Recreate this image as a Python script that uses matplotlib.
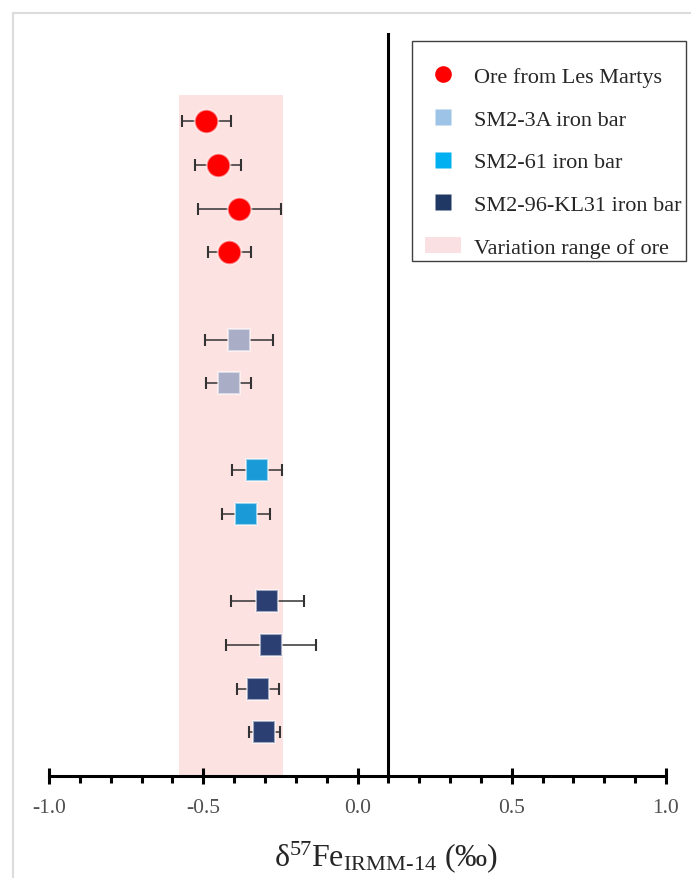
import matplotlib
matplotlib.use('Agg')
import matplotlib.pyplot as plt
from matplotlib.lines import Line2D
from matplotlib.patches import Patch, Rectangle
from matplotlib.ticker import MultipleLocator

plt.rcParams['font.family'] = ['Liberation Serif', 'DejaVu Serif']
plt.rcParams['mathtext.fontset'] = 'custom'
plt.rcParams['mathtext.rm'] = 'Liberation Serif'
plt.rcParams['mathtext.it'] = 'Liberation Serif:italic'
plt.rcParams['mathtext.bf'] = 'Liberation Serif:bold'

# ---- data ----
ore_pos = [15, 14, 13, 12]
ore_val = [-0.490, -0.453, -0.383, -0.416]
ore_err = [0.080, 0.075, 0.134, 0.070]

sm3a_pos = [10, 9]
sm3a_val = [-0.385, -0.417]
sm3a_err = [0.110, 0.073]

sm61_pos = [7, 6]
sm61_val = [-0.326, -0.361]
sm61_err = [0.081, 0.077]

sm96_pos = [4, 3, 2, 1]
sm96_val = [-0.292, -0.281, -0.322, -0.302]
sm96_err = [0.118, 0.146, 0.067, 0.051]

ore_range = [-0.578, -0.240]
range_top = 15.6

labels = ['Ore from Les Martys', 'SM2-3A iron bar', 'SM2-61 iron bar',
          'SM2-96-KL31 iron bar', 'Variation range of ore']
xticks = [-1.0, -0.5, 0.0, 0.5, 1.0]
xticklabels = ['-1.0', '-0.5', '0.0', '0.5', '1.0']

W, H = 691, 879
fig = plt.figure(figsize=(W / 100, H / 100), dpi=100)
ax = fig.add_axes([49 / W, 1 - 777 / H, (666 - 49) / W, (777 - 35) / H])
ax.set_xlim(-1.0, 1.0)
ax.set_ylim(0, 17)

band_color = '#fde2e2'
ax.add_patch(Rectangle((ore_range[0], 0), ore_range[1] - ore_range[0], range_top,
                       facecolor=band_color, edgecolor='none', zorder=0))

halo = (1, 1, 1, 0.55)
common = dict(linestyle='none', ecolor='#333333', elinewidth=1.1, capsize=4.5,
              capthick=1.1, mec=halo, mew=1.5)
ax.errorbar(ore_val, ore_pos, xerr=ore_err, marker='o', ms=17, mfc='#ff0000', zorder=3, **common)
ax.errorbar(sm3a_val, sm3a_pos, xerr=sm3a_err, marker='s', ms=16, mfc='#a9adc6', zorder=3, **common)
ax.errorbar(sm61_val, sm61_pos, xerr=sm61_err, marker='s', ms=16, mfc='#1a9ad6', zorder=3, **common)
ax.errorbar(sm96_val, sm96_pos, xerr=sm96_err, marker='s', ms=16, mfc='#2b3f72', zorder=3, **common)

# axes styling
for s in ['top', 'right']:
    ax.spines[s].set_visible(False)
ax.spines['left'].set_position(('data', 0.1))
ax.spines['left'].set_linewidth(2.2)
ax.spines['bottom'].set_linewidth(2.2)
ax.set_yticks([])
ax.set_xticks(xticks)
ax.set_xticklabels(xticklabels)
ax.xaxis.set_minor_locator(MultipleLocator(0.1))
ax.tick_params(axis='x', which='major', direction='inout', length=12, width=2.2,
               labelsize=15.5, labelcolor='#505050', pad=10)
ax.tick_params(axis='x', which='minor', direction='out', length=5, width=2.2)
ax.patch.set_alpha(0)

fig.text(386 / W, 1 - 866 / H, r'δ$^{57}$Fe$_{\mathrm{IRMM‐14}}$ (‰)',
         ha='center', va='baseline', fontsize=23, color='#262626')

# legend
handles = [
    Line2D([], [], linestyle='none', marker='o', ms=12, mfc='#ff0000', mec='none'),
    Line2D([], [], linestyle='none', marker='s', ms=11, mfc='#9dc3e6', mec='none'),
    Line2D([], [], linestyle='none', marker='s', ms=11, mfc='#00b0f0', mec='none'),
    Line2D([], [], linestyle='none', marker='s', ms=11, mfc='#1f3864', mec='none'),
    Patch(facecolor='#fbe0e3', edgecolor='none'),
]
leg = ax.legend(handles, labels, loc='upper left',
                bbox_to_anchor=(412 / W, 1 - 54 / H), bbox_transform=fig.transFigure,
                fontsize=16, frameon=False, borderpad=0.6,
                handlelength=1.6, handletextpad=0.6, labelspacing=1.0,
                borderaxespad=0)
for t in leg.get_texts():
    t.set_color('#262626')
fig.add_artist(Rectangle((412 / W, 1 - 262 / H), (686 - 412) / W, (262 - 42) / H,
                         transform=fig.transFigure, facecolor='white',
                         edgecolor='#404040', lw=1.0, zorder=-1))

# figure border (light gray)
fig.add_artist(Line2D([12.5 / W, 12.5 / W], [0, 1 - 14 / H], color='#dcdcdc', lw=1.5,
                      transform=fig.transFigure, zorder=-1))
fig.add_artist(Line2D([12.5 / W, 1], [1 - 14 / H, 1 - 14 / H], color='#dcdcdc', lw=1.5,
                      transform=fig.transFigure, zorder=-1))

fig.savefig('out.png', dpi=100)
